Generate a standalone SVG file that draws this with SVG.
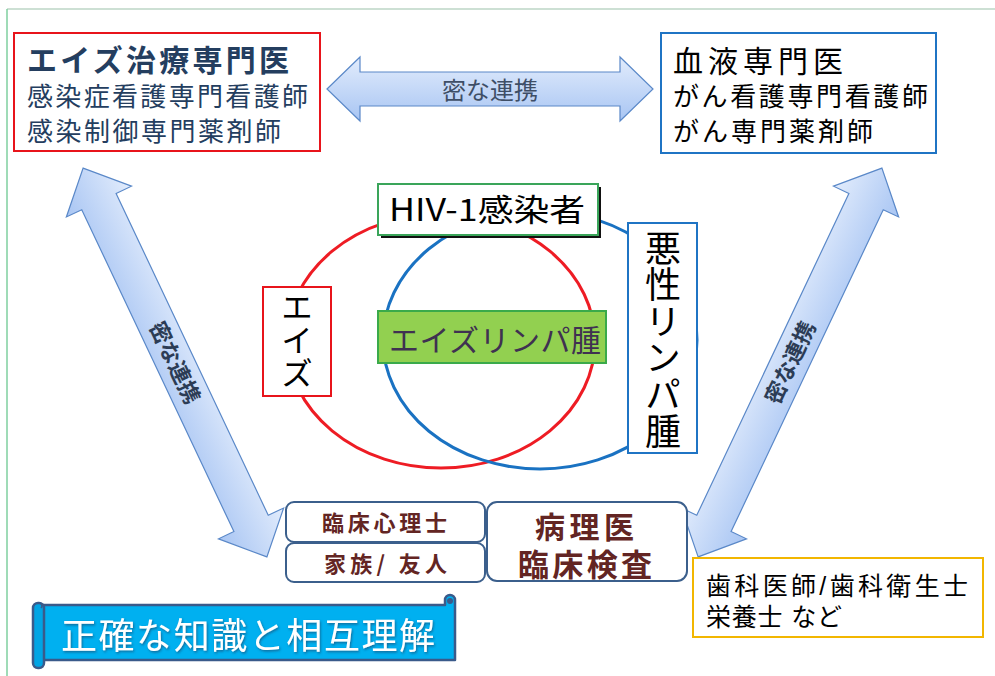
<svg xmlns="http://www.w3.org/2000/svg" width="995" height="676" viewBox="0 0 995 676">
<style>
text{font-family:"Noto Sans CJK JP","Noto Sans",sans-serif;}
.ml{font-family:"Liberation Sans","Noto Sans CJK JP",sans-serif;}
.arrow{fill:url(#ag);stroke:#5a88c8;stroke-width:1.2;}
.atxt{font-size:22px;fill:#2c3c55;font-weight:bold;text-anchor:middle;}
.box{fill:#fff;stroke-width:2;}
.rbox{fill:#fff;stroke:#3b5f8c;stroke-width:2;}
.brown{fill:#632523;font-weight:bold;}
.vert{writing-mode:vertical-rl;fill:#000;}
</style>
<defs>
<linearGradient id="ag" x1="0" y1="0" x2="0" y2="1">
<stop offset="0" stop-color="#e2ecfc"/>
<stop offset="1" stop-color="#a8c5f3"/>
</linearGradient>
<filter id="ts" x="-5%" y="-20%" width="110%" height="140%">
<feDropShadow dx="1" dy="1.5" stdDeviation="0.8" flood-color="#1a3a60" flood-opacity="0.6"/>
</filter>
</defs>
<rect x="0" y="0" width="995" height="676" fill="#fff"/>
<line x1="7" y1="9" x2="995" y2="9" stroke="#bcd6c6" stroke-width="1.5"/>
<line x1="7" y1="9" x2="7" y2="676" stroke="#7fcf9f" stroke-width="1.5"/>

<g id="connectors">
<g transform="translate(490,89)">
<path class="arrow" d="M-163,0 L-130,-32 L-130,-17 L130,-17 L130,-32 L163,0 L130,32 L130,17 L-130,17 L-130,32 Z"/>
<text x="0" y="10" class="atxt" style="font-weight:normal;fill:#3e4e66;font-size:24px">密な連携</text>
</g>
<g transform="translate(175,362.5) rotate(64.7)">
<path class="arrow" d="M-215,0 L-178,-36 L-178,-19 L178,-19 L178,-36 L215,0 L178,36 L178,19 L-178,19 L-178,36 Z"/>
<text x="0" y="8" class="atxt">密な連携</text>
</g>
<g transform="translate(790,362.5) rotate(-64.7)">
<path class="arrow" d="M-215,0 L-178,-36 L-178,-19 L178,-19 L178,-36 L215,0 L178,36 L178,19 L-178,19 L-178,36 Z"/>
<text x="0" y="8" class="atxt">密な連携</text>
</g>
</g>

<g id="ellipses">
<ellipse cx="441" cy="341" rx="154" ry="127" fill="none" stroke="#ee1c24" stroke-width="3"/>
<ellipse cx="540" cy="340" rx="157" ry="129" fill="none" stroke="#1a72c2" stroke-width="3"/>
</g>

<g id="aids-specialists">
<rect class="box" x="14" y="33" width="306" height="118" stroke="#e8141b"/>
<text class="ml" x="27" y="71" font-size="30" font-weight="bold" fill="#243e5f" textLength="262" lengthAdjust="spacing">エイズ治療専門医</text>
<text class="ml" x="27" y="106" font-size="26" fill="#243e5f" textLength="281" lengthAdjust="spacing">感染症看護専門看護師</text>
<text class="ml" x="27" y="141" font-size="26" fill="#243e5f" textLength="254" lengthAdjust="spacing">感染制御専門薬剤師</text>
</g>

<g id="hematology">
<rect class="box" x="661" y="33" width="275" height="120" stroke="#1f74c4"/>
<text class="ml" x="673" y="72" font-size="30" fill="#000" textLength="170" lengthAdjust="spacing">血液専門医</text>
<text class="ml" x="673" y="106" font-size="26" fill="#000" textLength="255" lengthAdjust="spacing">がん看護専門看護師</text>
<text class="ml" x="673" y="141" font-size="26" fill="#000" textLength="200" lengthAdjust="spacing">がん専門薬剤師</text>
</g>

<g id="hiv">
<rect x="381" y="187" width="220" height="51" fill="#111"/>
<rect x="378" y="184" width="220" height="51" fill="#fff" stroke="#3aa55a" stroke-width="2"/>
<text x="389" y="221" font-size="31" fill="#000" textLength="196" lengthAdjust="spacingAndGlyphs">HIV-1感染者</text>
</g>

<g id="aids">
<rect class="box" x="263" y="287" width="68" height="109" stroke="#e8141b" stroke-width="1.5"/>
<text class="vert" x="297" y="291" font-size="32" letter-spacing="1">エイズ</text>
</g>

<g id="lymphoma">
<rect class="box" x="628" y="223" width="69" height="230" stroke="#1f74c4" stroke-width="1.5"/>
<text class="vert" x="663" y="230" font-size="36" letter-spacing="0.6">悪性リンパ腫</text>
</g>

<g id="aids-lymphoma">
<rect x="378" y="311" width="228" height="52" fill="#92d050" stroke="#3aaa4a" stroke-width="2"/>
<text x="389" y="351" font-size="30" fill="#3f3151" textLength="212" lengthAdjust="spacing">エイズリンパ腫</text>
</g>

<g id="psychologist">
<rect class="rbox" x="286" y="502" width="199" height="40" rx="8"/>
<text x="322" y="531" font-size="22" class="brown" textLength="125" lengthAdjust="spacing">臨床心理士</text>
</g>

<g id="family">
<rect class="rbox" x="286" y="543" width="199" height="39" rx="8"/>
<text x="324" y="572" font-size="22" class="brown" textLength="123" lengthAdjust="spacing">家族/ 友人</text>
</g>

<g id="pathology">
<rect class="rbox" x="487" y="502" width="200" height="79" rx="10"/>
<text class="ml brown" x="535" y="538" font-size="30" textLength="99" lengthAdjust="spacing">病理医</text>
<text class="ml brown" x="518" y="576" font-size="31" textLength="134" lengthAdjust="spacing">臨床検査</text>
</g>

<g id="dental">
<rect class="box" x="693" y="558" width="290" height="79" stroke="#f2b600"/>
<text class="ml" x="706" y="595" font-size="25" fill="#000" textLength="262" lengthAdjust="spacing">歯科医師/歯科衛生士</text>
<text class="ml" x="706" y="626" font-size="25" fill="#000" textLength="136" lengthAdjust="spacing">栄養士 など</text>
</g>

<g id="banner">
<path d="M43,605 H445 V600 A5,5 0 0 1 455,600 V660 H43 Z" fill="#00b0f0" stroke="#3a5a8a" stroke-width="2.5" stroke-linejoin="round"/>
<circle cx="450" cy="601" r="3" fill="#3a5a8a"/>
<rect x="33" y="603" width="11" height="65" rx="5" fill="#00a4e4" stroke="#3a5a8a" stroke-width="2.5"/>
<path d="M38,603 a3,3 0 0 1 3,5" fill="none" stroke="#3a5a8a" stroke-width="1.5"/>
<text x="61" y="649" font-size="36" fill="#fff" filter="url(#ts)" textLength="374" lengthAdjust="spacing">正確な知識と相互理解</text>
</g>
</svg>
